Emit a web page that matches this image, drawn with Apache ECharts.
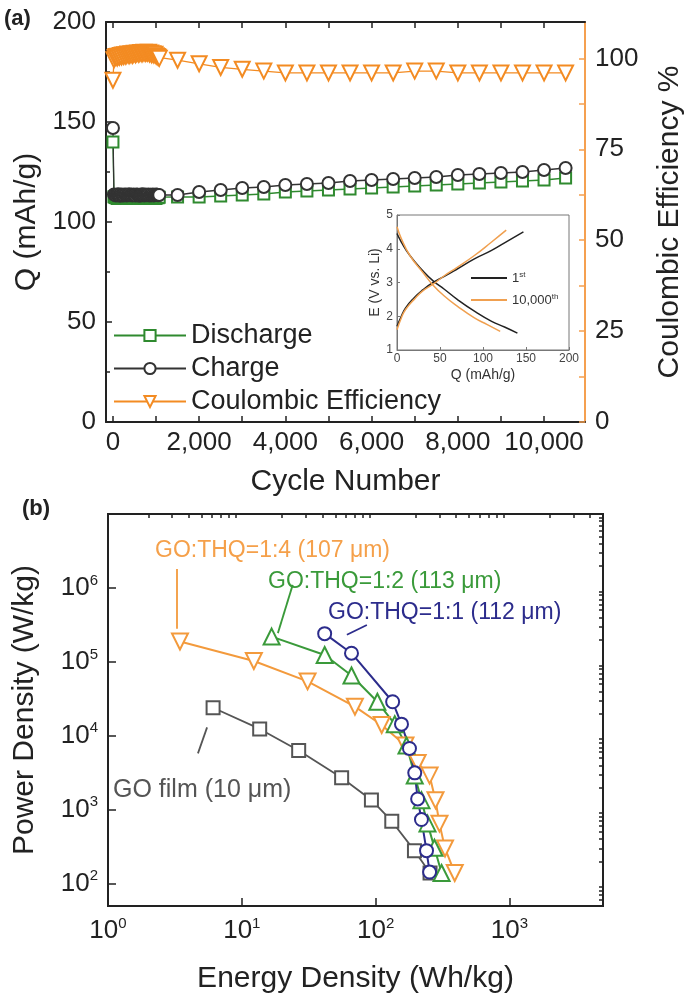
<!DOCTYPE html>
<html>
<head>
<meta charset="utf-8">
<script src="https://cdn.jsdelivr.net/npm/echarts@6/dist/echarts.min.js"></script>
<style>
  html, body { margin: 0; padding: 0; background: #fff; }
  #chart { width: 693px; height: 995px; }
</style>
</head>
<body>
<div id="chart"></div>
<script>
// ---------- (a) long-term cycling ----------
const cycles = [
  1,
  25, 50, 75, 100, 125, 150, 175, 200, 225, 250,
  275, 300, 325, 350, 375, 400, 425, 450, 475, 500,
  525, 550, 575, 600, 625, 650, 675, 700, 725, 750,
  775, 800, 825, 850, 875, 900, 925, 950, 975, 1000,
  1025, 1050, 1075,
  1500, 2000, 2500, 3000, 3500, 4000, 4500, 5000, 5500, 6000,
  6500, 7000, 7500, 8000, 8500, 9000, 9500, 10000, 10500
];
const dischargeQ = [
  140,
  112.6, 112.3, 112.1, 111.8, 112.0, 112.2, 111.9, 112.3, 112.0, 111.7,
  112.1, 112.4, 112.0, 111.8, 112.2, 111.9, 112.1, 112.5, 112.2, 111.9,
  112.0, 112.3, 112.1, 111.8, 112.2, 112.0, 111.7, 112.1, 112.4, 112.0,
  111.9, 112.2, 112.3, 111.8, 112.0, 112.1, 111.9, 112.3, 112.0, 111.8,
  112.2, 112.1, 112.4,
  112.5, 112.5, 113, 113.5, 114, 115, 115.5, 116, 116.5, 117,
  117.5, 118, 118.5, 119, 119.5, 120, 120.5, 121, 122
];
const chargeQ = [
  147,
  113.8, 113.5, 113.2, 113.6, 113.9, 113.4, 113.1, 113.7, 113.5, 113.3,
  113.8, 113.6, 113.2, 113.5, 113.9, 113.4, 113.6, 113.3, 113.7, 113.5,
  113.2, 113.8, 113.6, 113.4, 113.1, 113.5, 113.9, 113.6, 113.3, 113.7,
  113.4, 113.5, 113.8, 113.2, 113.6, 113.4, 113.7, 113.3, 113.5, 113.8,
  113.6, 113.4, 113.5,
  113.5, 115, 116, 117, 117.5, 118.5, 119, 119.5, 120.5, 121,
  121.5, 122, 122.5, 123.5, 124, 124.5, 125, 126, 127
];
const coulombicEff = [
  94,
  99.6, 100.2, 100.5, 100.1, 100.6, 100.3, 100.8, 100.4, 100.9, 100.5,
  101.0, 100.6, 100.9, 101.2, 100.7, 101.0, 101.3, 100.8, 101.1, 101.4,
  101.0, 101.3, 101.5, 101.1, 101.4, 101.6, 101.2, 101.5, 101.7, 101.3,
  101.6, 101.4, 101.7, 101.2, 101.5, 101.0, 101.3, 100.9, 101.1, 100.7,
  100.5, 100.3, 100.0,
  99.5, 98.5, 97.5, 97, 96.5, 96, 96, 96, 96, 96,
  96, 96.5, 96.5, 96, 96, 96, 96, 96, 96
];
const cycleTickLabels = [0, 2000, 4000, 6000, 8000, 10000];
const cycleTickMarks = [0, 1000, 2000, 3000, 4000, 5000, 6000, 7000, 8000, 9000, 10000];
const ceTickLabels = [0, 25, 50, 75, 100];
const ceTickMarks = [0, 12.5, 25, 37.5, 50, 62.5, 75, 87.5, 100];

// inset: voltage profiles, 1st and 10,000th cycle
const firstChargeQ   = [0, 5, 10, 20, 30, 42, 55, 70, 90, 110, 130, 147];
const firstChargeE   = [1.7, 2.0, 2.25, 2.55, 2.78, 3.0, 3.18, 3.4, 3.7, 3.95, 4.25, 4.5];
const firstDisQ      = [0, 5, 15, 30, 42, 55, 70, 90, 110, 125, 140];
const firstDisE      = [4.45, 4.2, 3.8, 3.35, 3.05, 2.8, 2.5, 2.15, 1.85, 1.68, 1.5];
const lastChargeQ    = [0, 5, 10, 20, 30, 42, 55, 70, 90, 110, 127];
const lastChargeE    = [1.6, 1.95, 2.2, 2.5, 2.75, 2.95, 3.2, 3.45, 3.8, 4.2, 4.55];
const lastDisQ       = [0, 5, 15, 30, 42, 55, 70, 90, 105, 120];
const lastDisE       = [4.65, 4.3, 3.8, 3.3, 2.92, 2.6, 2.3, 1.95, 1.75, 1.55];

// ---------- (b) Ragone plot ----------
const filmEnergy = [6.1, 13.6, 26.6, 55.7, 93, 132, 195, 255];
const filmPower  = [24000, 12400, 6350, 2720, 1360, 700, 280, 140];
const r14Energy  = [3.45, 12.3, 31, 70, 111, 167, 206, 253, 280, 300, 330, 390];
const r14Power   = [189000, 103000, 54500, 24800, 14000, 7400, 4300, 2900, 1350, 650, 300, 140];
const r12Energy  = [16.7, 41.6, 66, 103, 139, 170, 196, 220, 244, 275, 311];
const r12Power   = [220000, 124000, 65400, 28900, 14400, 7400, 2900, 1350, 655, 307, 140];
const r11Energy  = [41.6, 66, 134, 156, 179, 196, 206, 220, 240, 253];
const r11Power   = [241000, 131000, 28900, 14400, 6750, 3160, 1400, 738, 280, 144];
const energyTicks = [1, 10, 100, 1000];
const powerTicks  = [100, 1000, 10000, 100000, 1000000];
const energyMinor = [2, 3, 4, 5, 6, 7, 8, 9, 20, 30, 40, 50, 60, 70, 80, 90,
                     200, 300, 400, 500, 600, 700, 800, 900, 2000, 3000, 4000, 5000];
const powerMinor  = [60, 70, 80, 90, 200, 300, 400, 500, 600, 700, 800, 900,
                     2000, 3000, 4000, 5000, 6000, 7000, 8000, 9000,
                     20000, 30000, 40000, 50000, 60000, 70000, 80000, 90000,
                     200000, 300000, 400000, 500000, 600000, 700000, 800000, 900000,
                     2000000, 3000000, 4000000, 5000000, 6000000, 7000000, 8000000, 9000000];

const FONT = 'Liberation Sans, Arial, Helvetica, sans-serif';
const C_GREEN = '#2f8a2f', C_DARK = '#333333', C_ORANGE = '#f38b22';
const B_ORANGE = '#f39a3c', B_GREEN = '#3a9a3a', B_NAVY = '#2c2c8c', B_GRAY = '#555555';

const zip = (a, b) => a.map((v, i) => [v, b[i]]);
const sup = (base, exp) => '{b|' + base + '}{s|' + exp + '}';
const supRich = { b: { fontSize: 26, fontFamily: FONT, color: '#222', lineHeight: 30 },
                  s: { fontSize: 15, fontFamily: FONT, color: '#222', verticalAlign: 'top', lineHeight: 30, padding: [0, 0, 12, 0] } };

const chart = echarts.init(document.getElementById('chart'), null, { renderer: 'canvas' });

const option = {
  backgroundColor: '#fff',
  animation: false,
  textStyle: { fontFamily: FONT },
  grid: [
    { left: 106, top: 22, width: 497, height: 400 },
    { left: 397, top: 215, width: 172, height: 135, show: true, borderColor: '#777', borderWidth: 1, backgroundColor: '#fff' },
    { left: 108, top: 514, width: 495, height: 403, show: true, borderColor: '#222', borderWidth: 2 }
  ],
  xAxis: [
    { gridIndex: 0, type: 'value', position: 'bottom', min: -160, max: 10950,
      axisLine: { onZero: false, lineStyle: { color: '#222', width: 2 } },
      axisTick: { inside: true, length: 6, customValues: cycleTickMarks, lineStyle: { color: '#222', width: 1.5 } },
      axisLabel: { customValues: cycleTickLabels, fontSize: 26, color: '#222', margin: 8,
                   formatter: v => v.toLocaleString('en-US') },
      splitLine: { show: false },
      name: 'Cycle Number', nameLocation: 'middle', nameGap: 45,
      nameTextStyle: { fontSize: 30, color: '#222' } },
    { gridIndex: 0, type: 'value', position: 'top', min: -160, max: 10950,
      axisLine: { onZero: false, lineStyle: { color: '#222', width: 2 } },
      axisTick: { inside: true, length: 6, customValues: cycleTickMarks, lineStyle: { color: '#222', width: 1.5 } },
      axisLabel: { show: false }, splitLine: { show: false } },
    { gridIndex: 1, type: 'value', min: 0, max: 200, interval: 50,
      axisLine: { onZero: false, lineStyle: { color: '#777', width: 1 } },
      axisTick: { inside: true, length: 3, lineStyle: { color: '#777' } },
      axisLabel: { fontSize: 12, color: '#444', margin: 3 },
      splitLine: { show: false },
      name: 'Q (mAh/g)', nameLocation: 'middle', nameGap: 18,
      nameTextStyle: { fontSize: 14, color: '#333' } },
    { gridIndex: 2, type: 'log', logBase: 10, min: 1, max: 5000,
      axisLine: { onZero: false, lineStyle: { color: '#222', width: 2 } },
      axisTick: { inside: true, length: 8, customValues: energyTicks, lineStyle: { color: '#222', width: 1.5 } },
      axisLabel: { customValues: energyTicks, margin: 10, rich: supRich,
                   formatter: v => sup('10', Math.round(Math.log10(v))) },
      splitLine: { show: false },
      name: 'Energy Density (Wh/kg)', nameLocation: 'middle', nameGap: 58,
      nameTextStyle: { fontSize: 30, color: '#222' } },
    { gridIndex: 2, type: 'log', logBase: 10, min: 1, max: 5000,
      axisLine: { show: false, onZero: false },
      axisTick: { inside: true, length: 4, customValues: energyMinor, lineStyle: { color: '#222', width: 1.5 } },
      axisLabel: { show: false }, splitLine: { show: false } }
  ],
  yAxis: [
    { gridIndex: 0, type: 'value', min: 0, max: 200, interval: 50,
      axisLine: { show: true, onZero: false, lineStyle: { color: '#222', width: 2 } },
      axisTick: { inside: true, length: 6, lineStyle: { color: '#222', width: 1.5 } },
      minorTick: { show: true, splitNumber: 2, length: 4, lineStyle: { color: '#222', width: 1.5 } },
      axisLabel: { fontSize: 26, color: '#222', margin: 10 },
      splitLine: { show: false },
      name: 'Q (mAh/g)', nameLocation: 'middle', nameGap: 64, nameRotate: 90,
      nameTextStyle: { fontSize: 30, color: '#222' } },
    { gridIndex: 0, type: 'value', position: 'right', min: 0, max: 110,
      axisLine: { show: true, onZero: false, lineStyle: { color: '#f5a050', width: 2 } },
      axisTick: { inside: true, length: 6, customValues: ceTickMarks, lineStyle: { color: '#f5a050', width: 1.5 } },
      axisLabel: { customValues: ceTickLabels, fontSize: 26, color: '#222', margin: 10 },
      splitLine: { show: false },
      name: 'Coulombic Efficiency %', nameLocation: 'middle', nameGap: 70, nameRotate: 90,
      nameTextStyle: { fontSize: 30, color: '#222' } },
    { gridIndex: 1, type: 'value', min: 1, max: 5, interval: 1,
      axisLine: { show: true, onZero: false, lineStyle: { color: '#777', width: 1 } },
      axisTick: { inside: true, length: 3, lineStyle: { color: '#777' } },
      axisLabel: { fontSize: 12, color: '#444', margin: 4 },
      splitLine: { show: false },
      name: 'E (V vs. Li)', nameLocation: 'middle', nameGap: 10, nameRotate: 90,
      nameTextStyle: { fontSize: 14, color: '#333' } },
    { gridIndex: 2, type: 'log', logBase: 10, min: 50, max: 10000000,
      axisLine: { show: true, onZero: false, lineStyle: { color: '#222', width: 2 } },
      axisTick: { inside: true, length: 8, customValues: powerTicks, lineStyle: { color: '#222', width: 1.5 } },
      axisLabel: { customValues: powerTicks, margin: 10, rich: supRich,
                   formatter: v => sup('10', Math.round(Math.log10(v))) },
      splitLine: { show: false },
      name: 'Power Density (W/kg)', nameLocation: 'middle', nameGap: 68, nameRotate: 90,
      nameTextStyle: { fontSize: 30, color: '#222' } },
    { gridIndex: 2, type: 'log', logBase: 10, min: 50, max: 10000000,
      axisLine: { show: false, onZero: false },
      axisTick: { inside: true, length: 4, customValues: powerMinor, lineStyle: { color: '#222', width: 1.5 } },
      axisLabel: { show: false }, splitLine: { show: false } }
  ],
  legend: [
    { data: ['Discharge', 'Charge', 'Coulombic Efficiency'], orient: 'vertical',
      left: 108, top: 317, itemWidth: 72, itemHeight: 14, itemGap: 6,
      textStyle: { fontSize: 27, color: '#222', fontFamily: FONT } },
    { data: [{ name: '1st', icon: 'rect' }, { name: '10,000th', icon: 'rect' }],
      orient: 'vertical', left: 466, top: 266,
      itemWidth: 36, itemHeight: 2, itemGap: 8,
      formatter: n => n === '1st' ? '1{s|st}' : '10,000{s|th}',
      textStyle: { fontSize: 13, color: '#333', fontFamily: FONT,
                   rich: { s: { fontSize: 8, verticalAlign: 'top', lineHeight: 14, padding: [0, 0, 6, 0] } } } }
  ],
  series: [
    { name: 'Discharge', type: 'line', xAxisIndex: 0, yAxisIndex: 0,
      data: zip(cycles, dischargeQ), symbol: 'emptyRect', symbolSize: 11,
      itemStyle: { color: C_GREEN, borderWidth: 1.8 }, lineStyle: { color: C_GREEN, width: 1.3 } },
    { name: 'Charge', type: 'line', xAxisIndex: 0, yAxisIndex: 0,
      data: zip(cycles, chargeQ), symbol: 'emptyCircle', symbolSize: 12,
      itemStyle: { color: C_DARK, borderWidth: 1.8 }, lineStyle: { color: C_DARK, width: 1.3 } },
    { name: 'Coulombic Efficiency', type: 'line', xAxisIndex: 0, yAxisIndex: 1,
      data: zip(cycles, coulombicEff), symbol: 'emptyTriangle', symbolRotate: 180, symbolSize: 15,
      itemStyle: { color: C_ORANGE, borderWidth: 1.8 }, lineStyle: { color: C_ORANGE, width: 1.3 } },

    { name: '1st', type: 'line', xAxisIndex: 2, yAxisIndex: 2, smooth: true, symbol: 'none',
      data: zip(firstChargeQ, firstChargeE), lineStyle: { color: '#222', width: 1.5 }, itemStyle: { color: '#222' } },
    { name: '1st', type: 'line', xAxisIndex: 2, yAxisIndex: 2, smooth: true, symbol: 'none',
      data: zip(firstDisQ, firstDisE), lineStyle: { color: '#222', width: 1.5 }, itemStyle: { color: '#222' } },
    { name: '10,000th', type: 'line', xAxisIndex: 2, yAxisIndex: 2, smooth: true, symbol: 'none',
      data: zip(lastChargeQ, lastChargeE), lineStyle: { color: '#f0a050', width: 1.5 }, itemStyle: { color: '#f0a050' } },
    { name: '10,000th', type: 'line', xAxisIndex: 2, yAxisIndex: 2, smooth: true, symbol: 'none',
      data: zip(lastDisQ, lastDisE), lineStyle: { color: '#f0a050', width: 1.5 }, itemStyle: { color: '#f0a050' } },

    { name: 'GO film (10 μm)', type: 'line', xAxisIndex: 3, yAxisIndex: 3,
      data: zip(filmEnergy, filmPower), symbol: 'emptyRect', symbolSize: 13,
      itemStyle: { color: B_GRAY, borderWidth: 1.6 }, lineStyle: { color: B_GRAY, width: 1.8 },
      markLine: { silent: true, symbol: 'none', label: { show: false },
        lineStyle: { color: B_GRAY, width: 1.8, type: 'solid' },
        data: [[{ coord: [5.5, 13000] }, { coord: [4.7, 5800] }]] } },
    { name: 'GO:THQ=1:4 (107 μm)', type: 'line', xAxisIndex: 3, yAxisIndex: 3,
      data: zip(r14Energy, r14Power), symbol: 'emptyTriangle', symbolRotate: 180, symbolSize: 16,
      itemStyle: { color: B_ORANGE, borderWidth: 1.6 }, lineStyle: { color: B_ORANGE, width: 2 },
      markLine: { silent: true, symbol: 'none', label: { show: false },
        lineStyle: { color: B_ORANGE, width: 1.8, type: 'solid' },
        data: [[{ coord: [3.25, 1800000] }, { coord: [3.25, 280000] }]] } },
    { name: 'GO:THQ=1:2 (113 μm)', type: 'line', xAxisIndex: 3, yAxisIndex: 3,
      data: zip(r12Energy, r12Power), symbol: 'emptyTriangle', symbolSize: 16,
      itemStyle: { color: B_GREEN, borderWidth: 1.6 }, lineStyle: { color: B_GREEN, width: 2 },
      markLine: { silent: true, symbol: 'none', label: { show: false },
        lineStyle: { color: B_GREEN, width: 1.8, type: 'solid' },
        data: [[{ coord: [24, 1100000] }, { coord: [18.6, 245000] }]] } },
    { name: 'GO:THQ=1:1 (112 μm)', type: 'line', xAxisIndex: 3, yAxisIndex: 3,
      data: zip(r11Energy, r11Power), symbol: 'emptyCircle', symbolSize: 13,
      itemStyle: { color: B_NAVY, borderWidth: 1.6 }, lineStyle: { color: B_NAVY, width: 2 },
      markLine: { silent: true, symbol: 'none', label: { show: false },
        lineStyle: { color: B_NAVY, width: 1.8, type: 'solid' },
        data: [[{ coord: [86, 316000] }, { coord: [61, 233000] }]] } }
  ],
  graphic: [
    { type: 'text', left: 4, top: 8, style: { text: '(a)', font: 'bold 22px ' + FONT, fill: '#222' } },
    { type: 'text', left: 22, top: 498, style: { text: '(b)', font: 'bold 22px ' + FONT, fill: '#222' } },
    { type: 'text', left: 155, top: 539, style: { text: 'GO:THQ=1:4 (107 μm)', font: '23px ' + FONT, fill: '#f5a04a' } },
    { type: 'text', left: 268, top: 570, style: { text: 'GO:THQ=1:2 (113 μm)', font: '23px ' + FONT, fill: B_GREEN } },
    { type: 'text', left: 328, top: 601, style: { text: 'GO:THQ=1:1 (112 μm)', font: '23px ' + FONT, fill: B_NAVY } },
    { type: 'text', left: 113, top: 778, style: { text: 'GO film (10 μm)', font: '25px ' + FONT, fill: B_GRAY } }
  ]
};

chart.setOption(option);
</script>
</body>
</html>
